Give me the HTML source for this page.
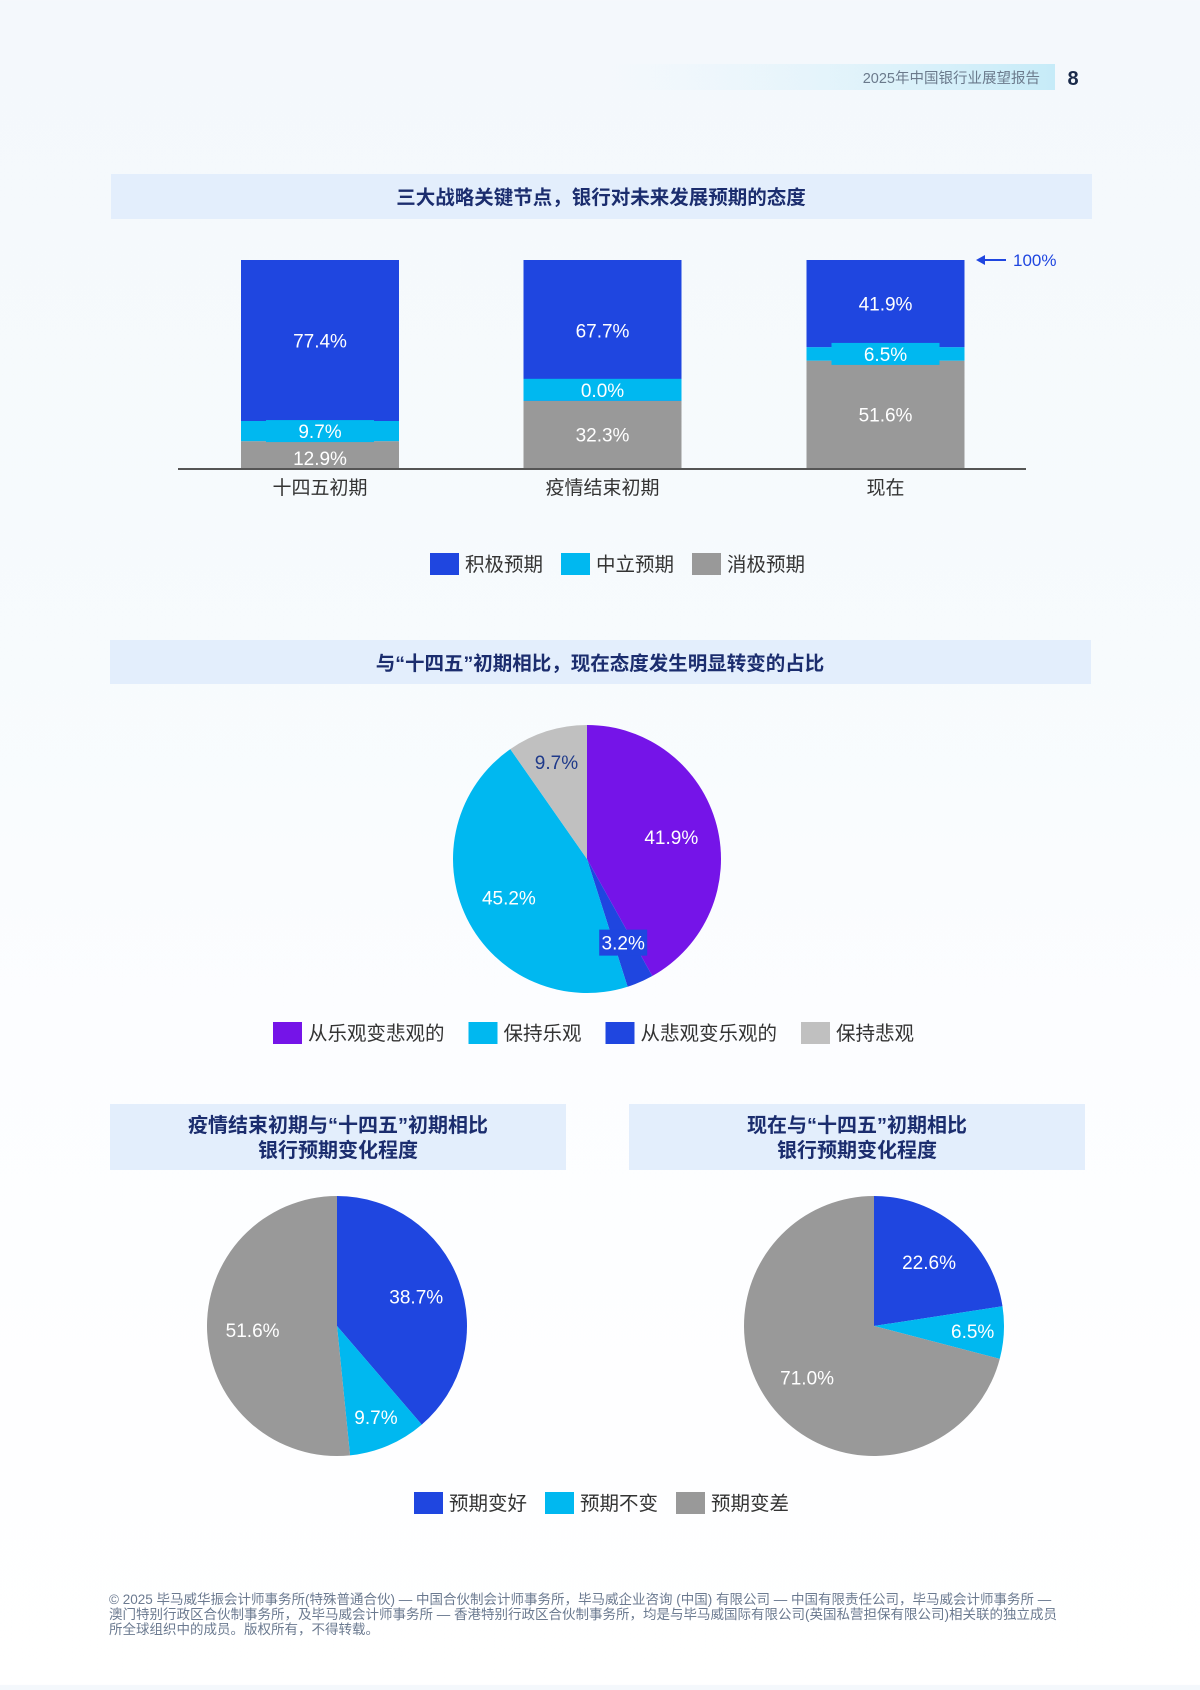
<!DOCTYPE html>
<html><head><meta charset="utf-8">
<style>
html,body{margin:0;padding:0;}
body{width:1200px;height:1685px;overflow:hidden;background:linear-gradient(180deg,#f4f8fc 0%,#f7fbfd 40%,#fcfdff 60%,#ffffff 100%);font-family:"Liberation Sans","Noto Sans CJK SC",sans-serif;}
svg text{font-family:"Liberation Sans","Noto Sans CJK SC",sans-serif;}
</style></head>
<body>
<svg id="page" width="1200" height="1685" viewBox="0 0 1200 1685" xmlns="http://www.w3.org/2000/svg">
<defs>
<linearGradient id="hdr" x1="0" x2="1" y1="0" y2="0">
<stop offset="0" stop-color="#e0f3fb" stop-opacity="0"/><stop offset="1" stop-color="#c6ebf8"/>
</linearGradient>
</defs>
<g>
<rect x="600" y="64" width="455" height="26" fill="url(#hdr)"/>
<text x="1040" y="83" font-size="14.5" fill="#6b7a8c" text-anchor="end">2025年中国银行业展望报告</text>
<text x="1073" y="85" font-size="20" font-weight="bold" fill="#1a2a4a" text-anchor="middle">8</text>
</g>
<g>
<rect x="111" y="174" width="981" height="45" fill="#e3eefc"/>
<text x="601" y="204" font-size="19.5" font-weight="bold" fill="#1b2d6e" text-anchor="middle">三大战略关键节点，银行对未来发展预期的态度</text>
</g>
<g id="bars"></g>
<g>
<rect x="110" y="640" width="981" height="44" fill="#e3eefc"/>
<text x="600" y="670" font-size="19.5" font-weight="bold" fill="#1b2d6e" text-anchor="middle">与“十四五”初期相比，现在态度发生明显转变的占比</text>
</g>
<g id="pie1"></g>
<g>
<rect x="110" y="1104" width="456" height="66" fill="#e3eefc"/>
<text x="338" y="1132" font-size="20" font-weight="bold" fill="#1b2d6e" text-anchor="middle">疫情结束初期与“十四五”初期相比</text>
<text x="338" y="1157" font-size="20" font-weight="bold" fill="#1b2d6e" text-anchor="middle">银行预期变化程度</text>
</g>
<g>
<rect x="629" y="1104" width="456" height="66" fill="#e3eefc"/>
<text x="857" y="1132" font-size="20" font-weight="bold" fill="#1b2d6e" text-anchor="middle">现在与“十四五”初期相比</text>
<text x="857" y="1157" font-size="20" font-weight="bold" fill="#1b2d6e" text-anchor="middle">银行预期变化程度</text>
</g>
<g id="pie2"></g>
<g id="pie3"></g>
<g id="legends"></g>
<g font-size="13.5" fill="#6b7a90">
<text x="109" y="1604">© 2025 毕马威华振会计师事务所(特殊普通合伙) — 中国合伙制会计师事务所，毕马威企业咨询 (中国) 有限公司 — 中国有限责任公司，毕马威会计师事务所 —</text>
<text x="109" y="1619">澳门特别行政区合伙制事务所，及毕马威会计师事务所 — 香港特别行政区合伙制事务所，均是与毕马威国际有限公司(英国私营担保有限公司)相关联的独立成员</text>
<text x="109" y="1634">所全球组织中的成员。版权所有，不得转载。</text>
</g>
</svg>
<script>
const NS='http://www.w3.org/2000/svg';
const barCategories=['十四五初期','疫情结束初期','现在'];
const positiveValues=[77.4,67.7,41.9];
const neutralValues=[9.7,0.0,6.5];
const negativeValues=[12.9,32.3,51.6];
const barSeriesNames=['积极预期','中立预期','消极预期'];

const pie1Labels=['从乐观变悲观的','从悲观变乐观的','保持乐观','保持悲观'];
const pie1Values=[41.9,3.2,45.2,9.7];
const pie1LegendOrder=['从乐观变悲观的','保持乐观','从悲观变乐观的','保持悲观'];
const pie2Labels=['预期变好','预期不变','预期变差'];
const pie2Values=[38.7,9.7,51.6];
const pie3Values=[22.6,6.5,71.0];

function mk(tag,attrs,parent){const e=document.createElementNS(NS,tag);for(const k in attrs)e.setAttribute(k,attrs[k]);parent.appendChild(e);return e;}

const bg=document.getElementById('bars');
const plotTop=260, plotBottom=468, barW=158;
const xCenters=[320,602.5,885.5];
const y=v=>plotBottom-(v/100)*(plotBottom-plotTop);
const colors=['#1f46e0','#00b8f0','#999999'];
barCategories.forEach((c,i)=>{
  const g=mk('g',{},bg);
  
  
  const segs=[negativeValues[i],neutralValues[i],positiveValues[i]];
  const cols=[colors[2],colors[1],colors[0]];
  let cum=0;
  const tops=[];
  segs.forEach((v,k)=>{
    const r=mk('rect',{x:xCenters[i]-barW/2,y:y(cum+v),width:barW,height:y(cum)-y(cum+v),fill:cols[k]},g);
    
    
    tops.push([cum,cum+v]);cum+=v;
  });
  segs.forEach((v,k)=>{
    let cy=(y(tops[k][0])+y(tops[k][1]))/2;
    if(k===1){
      const h=Math.max(22,y(tops[k][0])-y(tops[k][1]));
      const w=(v===0)?barW:108;
      if(v===0) cy=y(tops[k][0])-11;
      mk('rect',{x:xCenters[i]-w/2,y:cy-h/2,width:w,height:h,fill:colors[1]},g);
    }
    if(k===0 && v<15) cy=y(tops[k][0])-10;
    const t=mk('text',{x:xCenters[i],y:cy+7,'font-size':19,fill:'#ffffff','text-anchor':'middle'},g);
    t.textContent=v.toFixed(1)+'%';
    
    
  });
  const cl=mk('text',{x:xCenters[i],y:494,'font-size':19,fill:'#333333','text-anchor':'middle'},bg);
  cl.textContent=c;
  
  
});
const ax=mk('line',{x1:178,x2:1026,y1:469,y2:469,stroke:'#555','stroke-width':2},bg);


const arrow=mk('g',{},bg);


mk('line',{x1:982,x2:1006,y1:y(100),y2:y(100),stroke:'#1f46e0','stroke-width':2},arrow);
mk('path',{d:`M976 ${y(100)} l9 -5 v10 z`,fill:'#1f46e0'},arrow);
const at=mk('text',{x:1013,y:y(100)+6,'font-size':17,fill:'#1f46e0'},arrow);at.textContent='100%';

function drawPie(gid,cx,cy,r,vals,cols,labelCols,boxIdx){
  const g=document.getElementById(gid);
  const tot=vals.reduce((a,b)=>a+b,0);
  let a0=0;
  vals.forEach((v,i)=>{
    const a1=a0+v/tot*2*Math.PI;
    const p=(a)=>[cx+r*Math.sin(a),cy-r*Math.cos(a)];
    const [x0,y0]=p(a0),[x1,y1]=p(a1);
    const large=(a1-a0)>Math.PI?1:0;
    const s=mk('path',{d:`M${cx} ${cy} L${x0} ${y0} A${r} ${r} 0 ${large} 1 ${x1} ${y1} Z`,fill:cols[i]},g);
    
    
    a0=a1;
  });
  a0=0;
  vals.forEach((v,i)=>{
    const a1=a0+v/tot*2*Math.PI, m=(a0+a1)/2;
    const f=v<5?0.68:(v<10?0.76:0.65);
    const lx=cx+r*f*Math.sin(m), ly=cy-r*f*Math.cos(m);
    if(boxIdx===i) mk('rect',{x:lx-24,y:ly-13,width:48,height:26,fill:cols[i]},g);
    const t=mk('text',{x:lx,y:ly+7,'font-size':19,fill:labelCols[i],'text-anchor':'middle'},g);
    t.textContent=v.toFixed(1)+'%';
    
    
    a0=a1;
  });
}
drawPie('pie1',587,859,134,pie1Values,['#7514e8','#1f46e0','#00b8f0','#c0c0c0'],['#fff','#fff','#fff','#1f3a8a'],1);
drawPie('pie2',337,1326,130,pie2Values,['#1f46e0','#00b8f0','#999999'],['#fff','#fff','#fff'],-1);
drawPie('pie3',874,1326,130,pie3Values,['#1f46e0','#00b8f0','#999999'],['#fff','#fff','#fff'],-1);

function legend(x0,yc,names,cols,gaps,name){
  const g=mk('g',{},document.getElementById('legends'));
  
  
  let x=x0;
  names.forEach((n,i)=>{
    const e=mk('g',{},g);
    
    
    mk('rect',{x:x,y:yc-11,width:29,height:22,fill:cols[i]},e);
    const t=mk('text',{x:x+35,y:yc+7,'font-size':19.5,fill:'#333'},e);
    t.textContent=n;
    x+=35+n.length*19.5+gaps;
  });
}
legend(430,564,barSeriesNames,colors,18,'bar-legend');
legend(273,1033,pie1LegendOrder,['#7514e8','#00b8f0','#1f46e0','#c0c0c0'],24,'pie-legend');
legend(414,1503,pie2Labels,colors,18,'change-pie-legend');
</script>
</body></html>
